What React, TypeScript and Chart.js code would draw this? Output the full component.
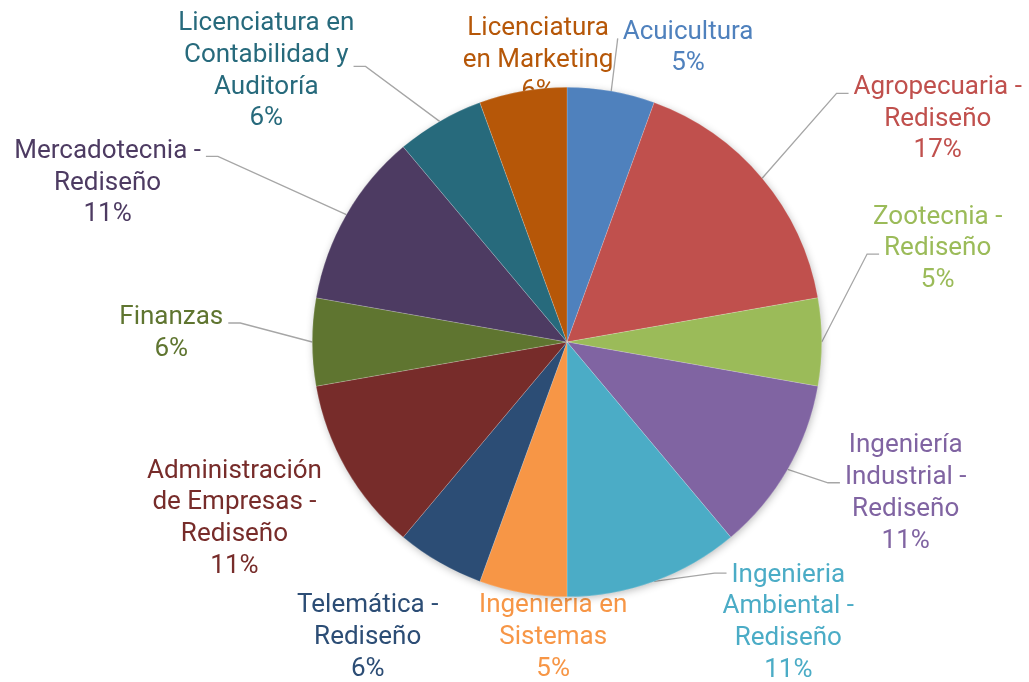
import { useEffect, useRef } from 'react';
import { Chart, registerables } from 'chart.js';

Chart.register(...registerables);

const categories = [
  'Acuicultura',
  'Agropecuaria -\nRediseño',
  'Zootecnia -\nRediseño',
  'Ingeniería\nIndustrial -\nRediseño',
  'Ingenieria\nAmbiental -\nRediseño',
  'Ingeniería en\nSistemas',
  'Telemática -\nRediseño',
  'Administración\nde Empresas -\nRediseño',
  'Finanzas',
  'Mercadotecnia -\nRediseño',
  'Licenciatura en\nContabilidad y\nAuditoría',
  'Licenciatura\nen Marketing',
];

const counts = [1, 3, 1, 2, 2, 1, 1, 2, 1, 2, 1, 1];
const percentLabels = ['5%', '17%', '5%', '11%', '11%', '5%', '6%', '11%', '6%', '11%', '6%', '6%'];

const colors = [
  '#4F81BD', '#C0504D', '#9BBB59', '#8064A2', '#4BACC6', '#F79646',
  '#2C4D75', '#772C2A', '#5F7530', '#4D3B62', '#276A7C', '#B65708',
];

// label placement: polar angle (deg, clockwise from top), radius factor, leader attach line fraction
const labelLayout = [
  { deg: 22.2, rf: 1.258, lead: 0.78 },
  { deg: 58.65, rf: 1.704, lead: 0.78 },
  { deg: 75.5, rf: 1.503, lead: 1.75 },
  { deg: 113.7, rf: 1.452, lead: 1.75 },
  { deg: 141.45, rf: 1.394, lead: 0.53 },
  { deg: 182.7, rf: 1.15, lead: null },
  { deg: 214.25, rf: 1.39, lead: null },
  { deg: 242.4, rf: 1.473, lead: null },
  { deg: 271.6, rf: 1.554, lead: 0.75 },
  { deg: 289.4, rf: 1.912, lead: 0.75 },
  { deg: 312.3, rf: 1.596, lead: 1.94 },
  { deg: 354.2, rf: 1.123, lead: null },
];

const FONT_SIZE = 26;
const FONT = `${FONT_SIZE}px Roboto`;
const LINE_H = 31.7;

const outLabels = {
  id: 'outLabels',
  beforeDatasetsDraw(chart: any) {
    const meta = chart.getDatasetMeta(0);
    const ctx = chart.ctx;
    const arc0: any = meta.data[0];
    if (!arc0) return;
    const cx = arc0.x;
    const cy = arc0.y;
    const R = arc0.outerRadius;
    ctx.save();
    ctx.font = FONT;
    ctx.textAlign = 'center';
    ctx.textBaseline = 'alphabetic';
    meta.data.forEach((arc: any, i: number) => {
      const lay = labelLayout[i];
      const a = (lay.deg * Math.PI) / 180;
      const lx = cx + lay.rf * R * Math.sin(a);
      const ly = cy - lay.rf * R * Math.cos(a);
      const lines = [...categories[i].split('\n'), percentLabels[i]];
      const top = ly - (lines.length * LINE_H) / 2;
      ctx.fillStyle = colors[i];
      lines.forEach((t, k) => ctx.fillText(t, lx, top + LINE_H * (k + 0.5) + FONT_SIZE * 0.36));
      if (lay.lead != null) {
        const mid = (arc.startAngle + arc.endAngle) / 2;
        const ex = cx + R * Math.cos(mid);
        const ey = cy + R * Math.sin(mid);
        const k = Math.floor(lay.lead);
        const w = ctx.measureText(lines[k]).width;
        const right = lx > cx;
        const ax = right ? lx - w / 2 - 5 : lx + w / 2 + 5;
        const ay = top + lay.lead * LINE_H;
        const stub = Math.abs(ax - ex) > 20 ? 12 : 0;
        const bx = right ? ax - stub : ax + stub;
        ctx.strokeStyle = '#A6A6A6';
        ctx.lineWidth = 1.3;
        ctx.beginPath();
        ctx.moveTo(ax, ay);
        ctx.lineTo(bx, ay);
        ctx.lineTo(ex, ey);
        ctx.stroke();
      }
    });
    ctx.shadowColor = 'rgba(0,0,0,0.3)';
    ctx.shadowBlur = 8;
    ctx.shadowOffsetX = 1;
    ctx.shadowOffsetY = 2;
    ctx.fillStyle = '#ffffff';
    ctx.beginPath();
    ctx.arc(cx, cy, R - 1, 0, Math.PI * 2);
    ctx.fill();
    ctx.restore();
  },
};

export default function App() {
  const ref = useRef<HTMLCanvasElement | null>(null);
  useEffect(() => {
    if (!ref.current) return;
    const chart = new Chart(ref.current, {
      type: 'pie',
      data: {
        labels: categories.map((c) => c.replace(/\n/g, ' ')),
        datasets: [
          {
            data: counts,
            backgroundColor: colors,
            borderColor: 'rgba(255,255,255,0.35)',
            borderWidth: 0.5,
          },
        ],
      },
      options: {
        responsive: false,
        animation: false,
        devicePixelRatio: 1,
        layout: { padding: { left: 312, right: 207, top: 87, bottom: 85 } },
        plugins: {
          legend: { display: false },
          tooltip: { enabled: false },
        },
      },
      plugins: [outLabels],
    });
    return () => chart.destroy();
  }, []);
  return (
    <div style={{ position: 'absolute', left: 0, top: 0, width: 1029, height: 682, background: '#fff' }}>
      <canvas ref={ref} width={1029} height={682} />
    </div>
  );
}
